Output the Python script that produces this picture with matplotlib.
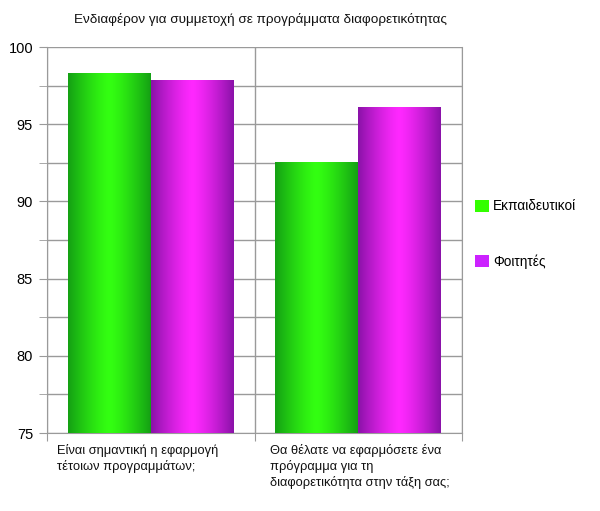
import numpy as np
import matplotlib
matplotlib.use('Agg')
from matplotlib import pyplot as plt
from matplotlib.colors import LinearSegmentedColormap
from matplotlib.patches import Patch
from matplotlib.ticker import MultipleLocator

plt.rcParams['font.family'] = ['Liberation Sans', 'DejaVu Sans']

TITLE = "Ενδιαφέρον για συμμετοχή σε προγράμματα διαφορετικότητας"
CATEGORIES = ["Είναι σημαντική η εφαρμογή\nτέτοιων προγραμμάτων;",
              "Θα θέλατε να εφαρμόσετε ένα\nπρόγραμμα για τη\nδιαφορετικότητα στην τάξη σας;"]
SERIES = ["Εκπαιδευτικοί", "Φοιτητές"]
TEACHERS = [98.3, 92.5]
STUDENTS = [97.8, 96.1]

GRID_COLOR = '#9a9a9a'
SOLID = ['#33ff00', '#cc22ff']
# edge / centre colours for the cylinder-like shading
SHADES = [('#14a014', '#33ff11'), ('#8a12a8', '#ff28ff')]
LABEL_PAD = [10, 16]  # px from the category's left boundary

fig = plt.figure(figsize=(6, 5.11), dpi=100)
ax = fig.add_axes([47 / 600, 1 - 433 / 511, 415 / 600, 386 / 511])

x = np.arange(len(CATEGORIES))
width = 0.4
ymin, ymax = 75, 100

grad = np.abs(np.linspace(-1, 1, 256)) ** 1.3
grad = grad[np.newaxis, :]
for i, (values, (edge, centre)) in enumerate(zip([TEACHERS, STUDENTS], SHADES)):
    bars = ax.bar(x + (i - 0.5) * width, np.array(values) - ymin, width, bottom=ymin,
                  color='none', edgecolor='none', zorder=3)
    cmap = LinearSegmentedColormap.from_list('shade%d' % i, [centre, edge])
    for rect in bars:
        bx, bw = rect.get_x(), rect.get_width()
        top = rect.get_y() + rect.get_height()
        ax.imshow(grad, cmap=cmap, aspect='auto', extent=(bx, bx + bw, ymin, top),
                  zorder=3, interpolation='bicubic', vmin=0, vmax=1)

ax.set_xlim(-0.5, len(CATEGORIES) - 0.5)
ax.set_ylim(ymin, ymax)

ax.yaxis.set_major_locator(MultipleLocator(5))
ax.yaxis.set_minor_locator(MultipleLocator(2.5))
ax.set_xticks(np.arange(-0.5, len(CATEGORIES)), minor=False)
ax.set_xticklabels([])
ax.grid(True, which='both', axis='y', color=GRID_COLOR, linewidth=1, zorder=0)
ax.grid(True, which='major', axis='x', color=GRID_COLOR, linewidth=1, zorder=0)
ax.tick_params(axis='y', which='both', length=6, color=GRID_COLOR, labelsize=10.5, pad=4)
ax.tick_params(axis='x', which='major', length=6, color=GRID_COLOR)
for s in ax.spines.values():
    s.set_visible(False)
for side in ('left', 'bottom', 'right'):
    ax.spines[side].set_visible(True)
    ax.spines[side].set_color(GRID_COLOR)

for i, label in enumerate(CATEGORIES):
    ax.annotate(label, xy=(i - 0.5, ymin), xycoords='data', xytext=(LABEL_PAD[i] * 0.72, -8),
                textcoords='offset points', ha='left', va='top', fontsize=9.3,
                linespacing=1.3, color='#111111')

fig.text(260 / 600, 1 - 20 / 511, TITLE, ha='center', va='center', fontsize=9.7,
         color='#111111')

handles = [Patch(facecolor=c, edgecolor='none') for c in SOLID]
fig.legend(handles, SERIES, loc='center left', bbox_to_anchor=(463 / 600, 1 - 234 / 511),
           frameon=False, fontsize=9.8, handlelength=1.0, handleheight=1.0,
           handletextpad=0.3, labelspacing=3.0)

fig.savefig('out.png', dpi=100)
